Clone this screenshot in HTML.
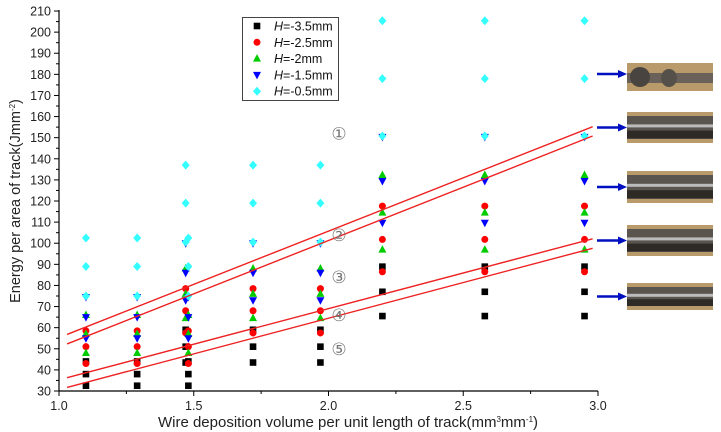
<!DOCTYPE html>
<html><head><meta charset="utf-8"><style>
html,body{margin:0;padding:0;background:#fff;}
svg{display:block;font-family:"Liberation Sans",Arial,sans-serif;}
</style></head><body>
<svg id="chart" width="721" height="432" viewBox="0 0 721 432"></svg>
<script>
const xCols = [1.10, 1.29, 1.48, 1.47, 1.72, 1.97, 2.20, 2.58, 2.95];
const groupA = {black:[32.5,38,44], red:[43,51,58.5], green:[48,57,66], blue:[55,65,74.5], cyan:[75,89,102.5]};
const groupB = {black:[43.5,51,59], red:[57.5,68,78.5], green:[64.5,76,88], blue:[73,86,100], cyan:[100.5,119,137]};
const groupC = {black:[65.5,77,88.9], red:[86.5,101.8,117.6], green:[97,114.5,132.3], blue:[109.7,129.5,150.4], cyan:[150.8,178,205.4]};
const colGroups = ['A','A','A','B','B','B','C','C','C'];
const fitLines = [[1.03,56.8,2.98,155.2],[1.03,52.3,2.98,150.8],[1.03,36.3,2.98,102.1],[1.03,31.7,2.98,97.6]];
const circledLabels = ['①','②','③','④','⑤'];
const circledY = [152,104,84,66,50];
const yTicks = [30,40,50,60,70,80,90,100,110,120,130,140,150,160,170,180,190,200,210];
const xTicks = [1.0,1.5,2.0,2.5,3.0];
const photoY = [63,112,171,225,283];
const photoH = [28,31,32,31,27];

const NS='http://www.w3.org/2000/svg';
const svg=document.getElementById('chart');
function X(v){return 59+(v-1)*269.5;}
function Y(v){return 391-(v-30)*2.111;}
function mk(tag,attrs,parent){const e=document.createElementNS(NS,tag);for(const k in attrs)e.setAttribute(k,attrs[k]);(parent||svg).appendChild(e);return e;}
const colors={black:'#000',red:'#f00',green:'#0c0',blue:'#00f',cyan:'#3ff'};

let ax=mk('line',{x1:59,y1:Y(210)-1,x2:59,y2:391,stroke:'#000','stroke-width':1.2});

let bx=mk('line',{x1:59,y1:391,x2:598,y2:391,stroke:'#000','stroke-width':1.2});

for(let v=30;v<=210;v+=5){const maj=v%10===0;mk('line',{x1:59,y1:Y(v),x2:maj?54:56,y2:Y(v),stroke:'#000','stroke-width':1});}
yTicks.forEach(v=>{const t=mk('text',{x:51,y:Y(v)+4.5,'text-anchor':'end','font-size':12.5,fill:'#222'});t.textContent=String(v);
});
for(let v=1;v<=3.001;v+=0.25){const maj=Math.abs(v*2-Math.round(v*2))<1e-6;mk('line',{x1:X(v),y1:391,x2:X(v),y2:maj?396:394,stroke:'#000','stroke-width':1});}
xTicks.forEach(v=>{const t=mk('text',{x:X(v),y:410,'text-anchor':'middle','font-size':12.5,fill:'#222'});t.textContent=v.toFixed(1);
});
let yt=mk('text',{x:0,y:0,'font-size':14.5,fill:'#222',transform:'translate(20,201) rotate(-90)','text-anchor':'middle'});
yt.innerHTML='Energy per area of track(Jmm<tspan dy="-5" font-size="8">-2</tspan><tspan dy="5">)</tspan>';

let xt=mk('text',{x:348,y:427,'font-size':15,fill:'#222','text-anchor':'middle'});
xt.innerHTML='Wire deposition volume per unit length of track(mm<tspan dy="-5" font-size="8">3</tspan><tspan dy="5">mm</tspan><tspan dy="-5" font-size="8">-1</tspan><tspan dy="5">)</tspan>';


function marker(kind,cx,cy,parent){
  let e;
  if(kind==='black')e=mk('rect',{x:cx-3.3,y:cy-3.3,width:6.6,height:6.6,fill:colors.black},parent);
  else if(kind==='red')e=mk('circle',{cx:cx,cy:cy,r:3.5,fill:colors.red},parent);
  else if(kind==='green')e=mk('polygon',{points:`${cx},${cy-4.5} ${cx+4},${cy+3} ${cx-4},${cy+3}`,fill:colors.green},parent);
  else if(kind==='blue')e=mk('polygon',{points:`${cx-4},${cy-3} ${cx+4},${cy-3} ${cx},${cy+4.5}`,fill:colors.blue},parent);
  else e=mk('polygon',{points:`${cx},${cy-4.5} ${cx+4},${cy} ${cx},${cy+4.5} ${cx-4},${cy}`,fill:colors.cyan},parent);
  return e;
}
const groups={A:groupA,B:groupB,C:groupC};
['black','red','green','blue','cyan'].forEach(k=>{
  xCols.forEach((x,i)=>{groups[colGroups[i]][k].forEach(v=>{
    const m=marker(k,X(x),Y(v));
    
    
  });});
});
fitLines.forEach((l,i)=>{const e=mk('line',{x1:X(l[0]),y1:Y(l[1]),x2:X(l[2]),y2:Y(l[3]),stroke:'#e22','stroke-width':1.4});
});
circledLabels.forEach((c,i)=>{const t=mk('text',{x:339,y:Y(circledY[i])+6,'font-size':17,fill:'#777','text-anchor':'middle'});t.textContent=c;
});

const lg=mk('g',{});
mk('rect',{x:242.5,y:17.5,width:96,height:83,fill:'#fff',stroke:'#444','stroke-width':1},lg);
const lgText=['-3.5mm','-2.5mm','-2mm','-1.5mm','-0.5mm'];
['black','red','green','blue','cyan'].forEach((k,i)=>{const yy=26+i*16.3;marker(k,257,yy,lg);
 const t=mk('text',{x:274,y:yy+4.5,'font-size':12.5,fill:'#111'},lg);t.innerHTML='<tspan font-style="italic">H</tspan>=' + lgText[i];
 });

photoY.forEach((py,i)=>{
  const g=mk('g',{});
  const h=photoH[i];
  mk('rect',{x:627,y:py,width:86,height:h,fill:'#b99a6a'},g);
  if(i===0){mk('rect',{x:627,y:py+10,width:86,height:10,fill:'#6a625a'},g);
    mk('ellipse',{cx:640,cy:py+14,rx:10,ry:10,fill:'#4a4440'},g);mk('ellipse',{cx:669,cy:py+15,rx:8,ry:9,fill:'#55504a'},g);}
  else{mk('rect',{x:627,y:py+4,width:86,height:h-8,fill:'#5a544e'},g);
    mk('rect',{x:627,y:py+h*0.4,width:86,height:3,fill:'#bbb'},g);
    mk('rect',{x:627,y:py+h*0.6,width:86,height:h*0.25,fill:'#2e2a26'},g);}
  const ay=py+(i===0?11:h/2);
  const a=mk('g',{});
  mk('line',{x1:597,y1:ay,x2:620,y2:ay,stroke:'#0010c0','stroke-width':2.5},a);
  mk('polygon',{points:`618,${ay-4} 627,${ay} 618,${ay+4}`,fill:'#0010c0'},a);
});
</script>
</body></html>
